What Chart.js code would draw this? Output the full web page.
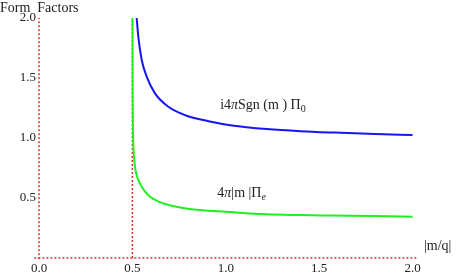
<!DOCTYPE html>
<html>
<head>
<meta charset="utf-8">
<script src="https://cdn.jsdelivr.net/npm/chart.js@4"></script>
<style>
html,body{margin:0;padding:0;background:#fff;}
#wrap{width:457px;height:274px;}
</style>
</head>
<body>
<div id="wrap"><canvas id="c" width="457" height="274"></canvas></div>
<script>
// ---- data ----
const xTickValues = [0, 0.5, 1.0, 1.5, 2.0];
const yTickValues = [0.5, 1.0, 1.5, 2.0];

const blueX = [0.523, 0.532, 0.55, 0.577, 0.622, 0.693, 0.783, 0.908, 1.033, 1.22, 1.4, 1.58, 1.8, 2.0];
const blueY = [2.0, 1.84, 1.65, 1.51, 1.37, 1.26, 1.19, 1.14, 1.105, 1.075, 1.057, 1.045, 1.033, 1.025];

const greenX = [0.5005, 0.501, 0.502, 0.504, 0.508, 0.514, 0.525, 0.541, 0.565, 0.595, 0.64, 0.70, 0.78, 0.86, 1.0, 1.22, 1.4, 1.575, 1.8, 2.0];
const greenY = [2.0, 1.6, 1.25, 1.0, 0.86, 0.76, 0.68, 0.62, 0.56, 0.51, 0.47, 0.44, 0.415, 0.40, 0.385, 0.364, 0.358, 0.354, 0.349, 0.344];

// dotted reference lines: threshold at |m/q| = 0.5 and the two axes
const cutoffX = [0.5, 0.5];
const cutoffY = [0, 2.0];
const xAxisX = [-0.025, 2.03];
const xAxisY = [0, 0];
const yAxisX = [0, 0];
const yAxisY = [-0.01, 2.0];

const yTitle = 'Form  Factors';
const xTitle = '|m/q|';

const toPts = (xs, ys) => xs.map((x, i) => ({x: x, y: ys[i]}));

const serif = "'Liberation Serif', 'DejaVu Serif', serif";
const red = '#e03030';

const dotted = (xs, ys) => ({
  data: toPts(xs, ys),
  borderColor: red,
  borderWidth: 1.5,
  borderDash: [2, 2],
  pointRadius: 0,
  fill: false,
  clip: false,
  order: 3
});

const textPlugin = {
  id: 'texts',
  afterDatasetsDraw(chart) {
    const ctx = chart.ctx;
    const xs = chart.scales.x, ys = chart.scales.y;
    ctx.save();
    ctx.fillStyle = '#222';
    ctx.textBaseline = 'alphabetic';
    ctx.textAlign = 'left';
    ctx.font = '14px ' + serif;
    ctx.fillText(yTitle, 0, 12);
    ctx.fillText(xTitle, xs.right + 4, ys.getPixelForValue(0) - 8);

    function rich(pieces, x, y) {
      let cx = x;
      for (const p of pieces) {
        ctx.font = (p.italic ? 'italic ' : '') + (p.size || 14) + 'px ' + serif;
        ctx.fillText(p.t, cx, y + (p.dy || 0));
        cx += ctx.measureText(p.t).width;
      }
    }
    rich([
      {t: 'i4'}, {t: 'π', italic: true}, {t: 'Sgn (m ) Π'}, {t: '0', size: 10, dy: 3}
    ], xs.getPixelForValue(0.97), ys.getPixelForValue(1.24));
    rich([
      {t: '4'}, {t: 'π', italic: true}, {t: '|m |Π'}, {t: 'e', size: 10, dy: 3, italic: true}
    ], xs.getPixelForValue(0.955), ys.getPixelForValue(0.51));
    ctx.restore();
  }
};

new Chart(document.getElementById('c'), {
  type: 'line',
  data: {
    datasets: [
      dotted(cutoffX, cutoffY),
      dotted(xAxisX, xAxisY),
      dotted(yAxisX, yAxisY),
      {
        data: toPts(greenX, greenY),
        borderColor: '#1ff01f',
        borderWidth: 2,
        pointRadius: 0,
        cubicInterpolationMode: 'monotone',
        fill: false,
        order: 2
      },
      {
        data: toPts(blueX, blueY),
        borderColor: '#1515f0',
        borderWidth: 2,
        pointRadius: 0,
        cubicInterpolationMode: 'monotone',
        fill: false,
        order: 1
      }
    ]
  },
  options: {
    responsive: false,
    animation: false,
    events: [],
    layout: {padding: {top: 18, right: 37, left: 0, bottom: 0}},
    plugins: {legend: {display: false}, tooltip: {enabled: false}},
    scales: {
      x: {
        type: 'linear',
        min: 0,
        max: 2.04,
        afterFit: s => { s.height = 16; },
        afterBuildTicks: s => { s.ticks = xTickValues.map(v => ({value: v})); },
        ticks: {
          callback: v => Number(v).toFixed(1),
          font: {family: serif, size: 13},
          color: '#222',
          padding: 3,
          maxRotation: 0
        },
        grid: {display: false, drawTicks: false, tickLength: 0},
        border: {display: false}
      },
      y: {
        type: 'linear',
        min: 0,
        max: 2.0,
        afterFit: s => { s.width = 39; },
        afterBuildTicks: s => { s.ticks = yTickValues.map(v => ({value: v})); },
        ticks: {
          callback: v => Number(v).toFixed(1),
          font: {family: serif, size: 13},
          color: '#222',
          padding: 3
        },
        grid: {display: false, drawTicks: false, tickLength: 0},
        border: {display: false}
      }
    }
  },
  plugins: [textPlugin]
});
</script>
</body>
</html>
